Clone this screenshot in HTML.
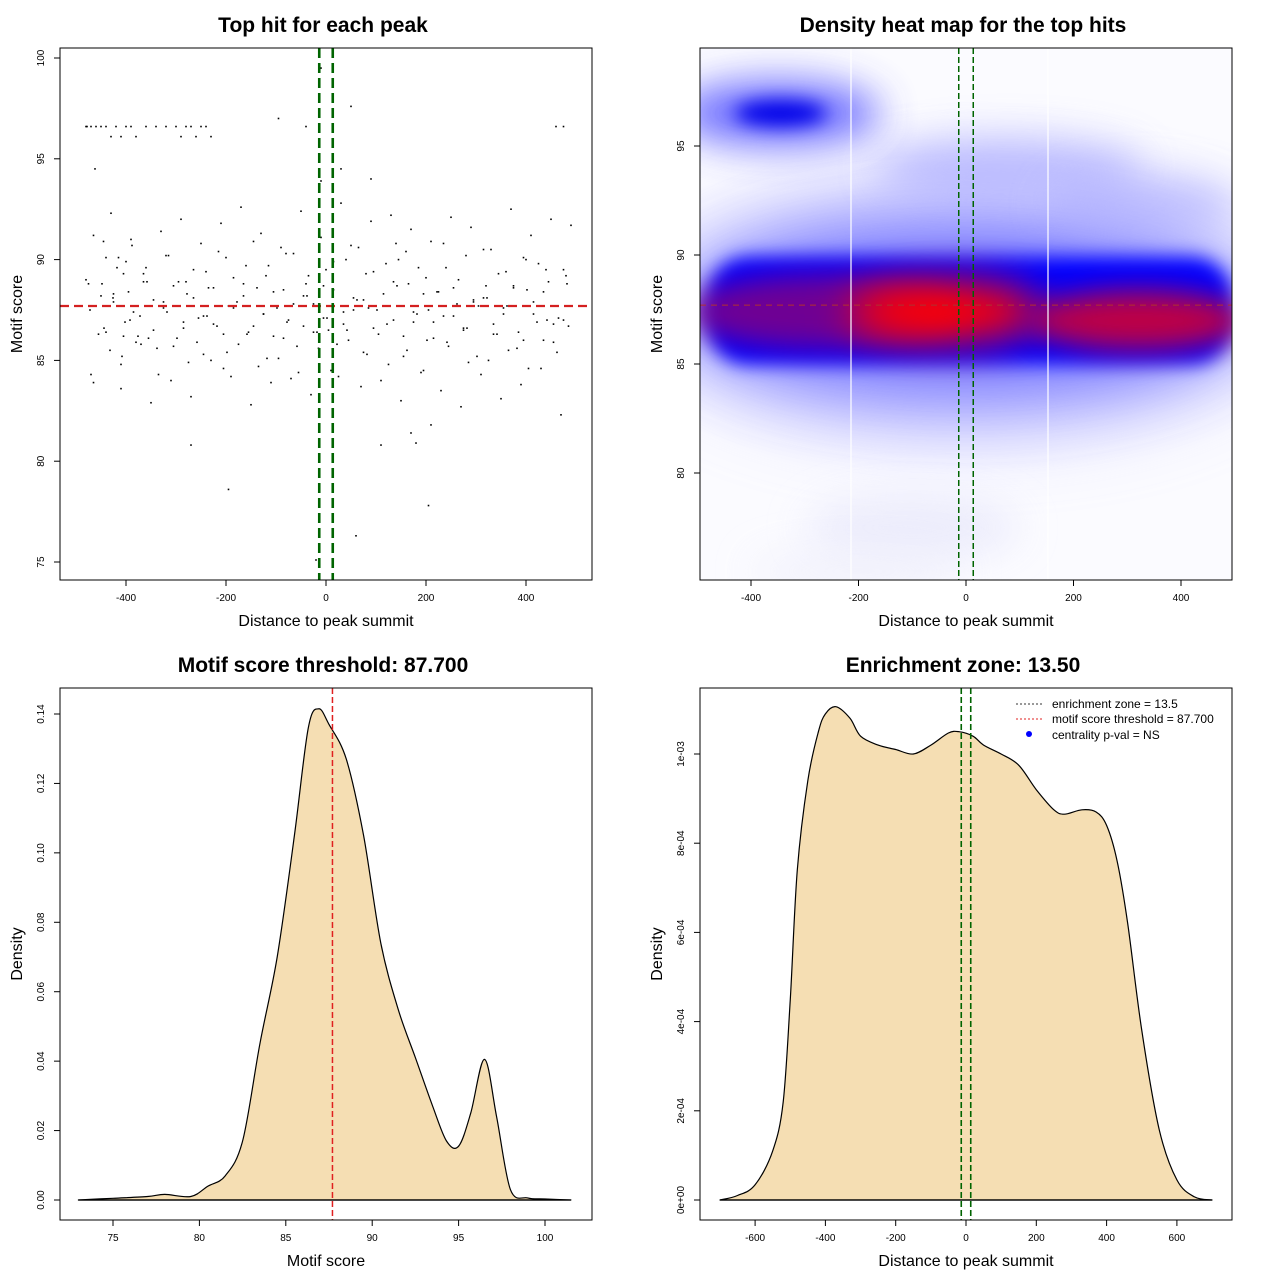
<!DOCTYPE html>
<html><head><meta charset="utf-8"><style>
html,body{margin:0;padding:0;background:#fff}
svg{display:block;font-family:"Liberation Sans",Arial,sans-serif}
</style></head><body>
<svg id="root" width="1280" height="1280" viewBox="0 0 1280 1280" xmlns="http://www.w3.org/2000/svg">
<defs>
<clipPath id="hmclip"><rect x="700" y="48" width="532" height="532"/></clipPath>
<filter id="b0" filterUnits="userSpaceOnUse" x="500" y="-200" width="900" height="1000"><feGaussianBlur stdDeviation="14"/></filter>
<filter id="b1" filterUnits="userSpaceOnUse" x="500" y="-200" width="900" height="1000"><feGaussianBlur stdDeviation="9"/></filter>
<filter id="b2" filterUnits="userSpaceOnUse" x="500" y="-200" width="900" height="1000"><feGaussianBlur stdDeviation="20"/></filter>
<filter id="b3" filterUnits="userSpaceOnUse" x="500" y="-200" width="900" height="1000"><feGaussianBlur stdDeviation="35"/></filter>
</defs>
<g id="p1"></g>
<g id="p2"></g>
<g id="p3"></g>
<g id="p4"></g>
</svg>
<script>
// ---------- data ----------
const scatterX = [-480,-470,-460,-450,-440,-430,-420,-410,-400,-390,-380,-360,-340,-320,-300,-290,-280,-270,-260,-250,-240,-230,
 -480,-472,-465,-455,-448,-440,-432,-425,-418,-410,-402,-395,-388,-380,-372,-365,-355,-345,-335,-325,-315,-305,-295,-285,-275,-265,-255,-245,-235,-225,-215,-205,-195,-185,-175,-165,-155,-145,-135,-125,-115,-105,-95,-85,-75,-65,-55,-45,-35,-25,-15,-5,5,15,25,35,45,55,65,75,85,95,105,115,125,135,145,155,165,175,185,195,205,215,225,235,245,255,265,275,285,295,305,315,325,335,345,355,365,375,385,395,405,415,425,435,445,455,465,475,485,
 -470,-450,-430,-410,-390,-370,-350,-330,-310,-290,-270,-250,-230,-210,-190,-170,-150,-130,-110,-90,-70,-50,-30,-10,10,30,50,70,90,110,130,150,170,190,210,230,250,270,290,310,330,350,370,390,410,430,450,470,490,
 -465,-445,-425,-405,-385,-365,-345,-325,-305,-285,-265,-245,-225,-205,-185,-165,-145,-125,-105,-85,-65,-45,-25,-5,15,35,55,75,95,115,135,155,175,195,215,235,255,275,295,315,335,355,375,395,415,435,455,475,
 -475,-440,-400,-360,-320,-280,-240,-200,-160,-120,-80,-40,0,40,80,120,160,200,240,280,320,360,400,440,480,
 -415,-405,-195,-20,-10,-95,-40,205,210,50,60,180,-270,170,110,-10,30,460,475,90,140,
 -478,-462,-444,-426,-408,-392,-376,-358,-338,-318,-298,-278,-258,-238,-218,-198,-178,-158,-138,-118,-98,-78,-58,-38,-18,2,22,42,62,82,102,122,142,162,182,202,222,242,262,282,302,322,342,362,382,402,422,442,462,482];
const scatterY = [96.6,96.6,96.6,96.6,96.6,96.1,96.6,96.1,96.6,96.6,96.1,96.6,96.6,96.6,96.6,96.1,96.6,96.6,96.1,96.6,96.6,96.1,
 89.0,87.5,91.2,86.3,88.8,90.1,85.5,87.9,89.6,84.8,86.9,88.4,90.7,85.9,87.2,89.3,86.1,88.0,84.3,87.6,90.2,85.7,88.9,86.6,84.9,89.5,87.1,85.3,88.6,86.8,90.4,84.6,87.7,89.1,85.8,88.2,86.4,90.9,84.7,87.3,89.7,86.2,85.1,88.5,87.0,90.3,84.4,86.7,89.2,87.8,85.6,88.7,86.5,89.9,84.2,87.4,86.0,88.1,90.6,85.4,87.6,89.4,86.3,88.3,84.8,87.0,90.0,85.2,88.8,86.9,89.6,84.5,87.5,86.1,88.4,90.8,85.7,87.2,89.0,86.6,84.9,88.0,87.7,90.5,85.0,86.8,89.3,87.3,85.5,88.6,86.4,90.1,84.6,87.9,89.8,86.0,88.9,85.9,87.1,89.5,86.7,84.3,88.2,
 92.3,83.6,91.0,85.8,82.9,91.4,84.0,92.0,83.2,90.8,85.0,91.8,84.2,92.6,82.8,91.3,83.9,90.6,84.1,92.4,83.3,91.1,84.5,92.8,90.7,83.7,91.9,84.0,92.2,83.0,91.5,84.4,90.9,83.5,92.1,82.7,91.6,84.3,90.5,83.1,92.5,83.8,91.2,84.6,92.0,82.3,91.7,83.9,90.9,
 88.3,86.2,87.4,88.9,86.5,87.9,88.7,86.9,88.1,87.2,88.6,86.3,87.6,88.8,86.7,87.3,88.4,86.1,87.8,88.2,86.4,87.1,88.5,86.8,87.5,88.0,86.6,87.7,88.9,86.2,87.4,88.3,86.9,87.2,88.6,86.5,87.9,88.1,86.3,87.6,88.7,86.0,87.3,88.4,86.8,87.0,88.8,86.4,
 89.9,89.6,90.2,88.9,89.4,90.1,89.7,89.2,90.3,88.8,89.5,90.0,89.3,89.8,90.4,89.1,89.6,90.2,88.7,89.4,90.0,89.5,89.2,90.1,89.3,
 78.6,75.1,99.5,97.0,96.6,77.8,81.8,97.6,76.3,80.9,80.8,81.4,80.8,93.9,94.5,96.6,96.6,94.0,90.8,96.6,94.5,
 86.6,88.1,85.2,87.0,86.2,88.9,85.6,87.4,86.1,88.3,85.9,87.2,86.7,85.4,87.9,86.3,88.6,85.1,87.6,86.9,85.7,88.2,86.4,87.1,85.8,86.5,88.0,85.3,87.5,86.8,88.7,85.5,87.3,86.0,88.4,85.9,87.8,86.6,85.2,88.1,86.3,87.7,85.6,88.5,86.9,87.0,85.4,88.8,86.2,87.6];
const heatCx = [0,-5,-260,-40,320,-345,-350,80,330,-100,-200];
const heatCy = [87.5,87.5,87.4,87.4,87.0,96.5,96.5,94.0,92.3,77.5,75.5];
const heatRx = [600,520,260,180,200,85,190,250,180,200,200];
const heatRy = [6,4,1.7,1.4,1.35,0.6,1.5,1.4,1.4,1.5,1.0];
const heatCol = ['#b8b8ff','#5a5aff','#7c0088','#ff0000','#c8003a','#0000e8','#4a4aff','#a8a8ff','#a8a8ff','#e8e8fb','#eeeefb'];
const heatOp = [0.6,0.8,0.9,1,0.95,1,0.8,0.7,0.6,0.8,0.7];
const bandX0=-480, bandX1=495, bandY0=85.0, bandY1=89.9;
const scoreX = [73,75,77,78,79.5,80.5,81.5,82.5,83.5,84.5,85.5,86.3,86.9,87.5,88.5,89.5,90.5,91.5,92.5,93.5,94.3,95,95.7,96.5,97.2,98,99,100,101.5];
const scoreD = [0,0.0005,0.001,0.0016,0.001,0.004,0.007,0.017,0.045,0.07,0.105,0.136,0.1415,0.137,0.127,0.105,0.074,0.055,0.041,0.027,0.017,0.0155,0.025,0.0405,0.024,0.003,0.0006,0.0003,0];
const distX = [-700,-650,-600,-550,-520,-500,-480,-450,-420,-400,-370,-330,-300,-250,-200,-150,-100,-50,-20,20,50,100,150,200,250,280,330,370,400,430,460,500,550,600,650,700];
const distD = [0,0.00001,0.000034,0.00011,0.00022,0.00045,0.00074,0.00094,0.00105,0.00109,0.001106,0.00108,0.00104,0.00102,0.00101,0.001,0.00102,0.001047,0.00105,0.00104,0.00102,0.001,0.000975,0.00092,0.000875,0.000865,0.000875,0.00087,0.00084,0.00076,0.00062,0.00038,0.000157,0.000045,0.000007,0];
const tickX1=[-400,-200,0,200,400], tickY1=[75,80,85,90,95,100];
const tickX2=[-400,-200,0,200,400], tickY2=[80,85,90,95];
const tickX3=[75,80,85,90,95,100], tickY3=[0,0.02,0.04,0.06,0.08,0.10,0.12,0.14];
const tickY3L=['0.00','0.02','0.04','0.06','0.08','0.10','0.12','0.14'];
const tickX4=[-600,-400,-200,0,200,400,600], tickY4=[0,0.0002,0.0004,0.0006,0.0008,0.001];
const tickY4L=['0e+00','2e-04','4e-04','6e-04','8e-04','1e-03'];
const threshold=87.7, zone=13.5;
// ---------- helpers ----------
const NS='http://www.w3.org/2000/svg';
function mk(parent,tag,attrs,text){const e=document.createElementNS(NS,tag);for(const k in attrs)e.setAttribute(k,attrs[k]);if(text!==undefined)e.textContent=text;parent.appendChild(e);return e;}
function lin(d0,d1,p0,p1){return v=>p0+(v-d0)*(p1-p0)/(d1-d0);}
function smooth(pts){
  let d='M'+pts[0][0].toFixed(1)+','+pts[0][1].toFixed(1);
  for(let i=0;i<pts.length-1;i++){
    const p0=pts[Math.max(0,i-1)],p1=pts[i],p2=pts[i+1],p3=pts[Math.min(pts.length-1,i+2)];
    const c1=[p1[0]+(p2[0]-p0[0])/6,p1[1]+(p2[1]-p0[1])/6];
    const c2=[p2[0]-(p3[0]-p1[0])/6,p2[1]-(p3[1]-p1[1])/6];
    d+=` C${c1[0].toFixed(1)},${c1[1].toFixed(1)} ${c2[0].toFixed(1)},${c2[1].toFixed(1)} ${p2[0].toFixed(1)},${p2[1].toFixed(1)}`;
  }
  return d+' Z';
}
function axes(g,L,T,W,H,sx,sy,xt,xl,yt,yl,title,xlab,ylab){
  const box=mk(g,'rect',{x:L,y:T,width:W,height:H,fill:'none',stroke:'#000','stroke-width':1});
  
  
  const B=T+H;
  mk(g,'line',{x1:sx(xt[0]),x2:sx(xt[xt.length-1]),y1:B,y2:B,stroke:'#000'});
  xt.forEach((v,i)=>{mk(g,'line',{x1:sx(v),x2:sx(v),y1:B,y2:B+6,stroke:'#000'});
    const t=mk(g,'text',{x:sx(v),y:B+21,'font-size':10,'text-anchor':'middle'},xl[i]);
    
    });
  yt.forEach((v,i)=>{mk(g,'line',{x1:L-6,x2:L,y1:sy(v),y2:sy(v),stroke:'#000'});
    const t=mk(g,'text',{x:L-16,y:sy(v),'font-size':10,'text-anchor':'middle',transform:`rotate(-90 ${L-16} ${sy(v)})`},yl[i]);
    
    });
  const tt=mk(g,'text',{x:L+W/2-3,y:T-16,'font-size':21,'font-weight':'bold','text-anchor':'middle'},title);
  
  
  const xa=mk(g,'text',{x:L+W/2,y:B+46,'font-size':16,'text-anchor':'middle'},xlab);
  
  
  const ya=mk(g,'text',{x:L-38,y:T+H/2,'font-size':16,'text-anchor':'middle',transform:`rotate(-90 ${L-38} ${T+H/2})`},ylab);
  
  
}
// ---------- panel 1 ----------
(function(){
 const g=document.getElementById('p1');
 const sx=lin(0,200,326,426), sy=lin(100,75,58,562);
 scatterX.forEach((x,i)=>{const r=mk(g,'rect',{x:sx(x)-0.8,y:sy(scatterY[i])-0.8,width:1.6,height:1.6,fill:'#000'});
   
   });
 const h=mk(g,'line',{x1:60,x2:592,y1:sy(threshold),y2:sy(threshold),stroke:'#d42020','stroke-width':2.2,'stroke-dasharray':'9,5'});
 
 
 [-zone,zone].forEach(z=>{const l=mk(g,'line',{x1:sx(z),x2:sx(z),y1:48,y2:580,stroke:'#006400','stroke-width':2.6,'stroke-dasharray':'10,5'});
  
  });
 axes(g,60,48,532,532,sx,sy,tickX1,tickX1.map(String),tickY1,tickY1.map(String),'Top hit for each peak','Distance to peak summit','Motif score');
})();
// ---------- panel 2 ----------
(function(){
 const g=document.getElementById('p2');
 const sx=lin(0,200,966,1073.5), sy=lin(95,80,146,473);
 const c=mk(g,'g',{'clip-path':'url(#hmclip)'});
 mk(c,'rect',{x:700,y:48,width:532,height:532,fill:'#fbfbff'});
 const filt=['url(#b3)','url(#b3)','url(#b0)','url(#b2)','url(#b0)','url(#b1)','url(#b2)','url(#b2)','url(#b2)','url(#b2)','url(#b2)'];
 function blob(i){const e=mk(c,'ellipse',{cx:sx(heatCx[i]),cy:sy(heatCy[i]),rx:heatRx[i]*0.5375,ry:heatRy[i]*21.8,fill:heatCol[i],opacity:heatOp[i],filter:filt[i]});
   
   }
 blob(0);blob(1);blob(7);blob(8);blob(9);blob(10);blob(6);blob(5);
 const band=mk(c,'rect',{x:sx(bandX0),y:sy(bandY1),width:sx(bandX1)-sx(bandX0),height:sy(bandY0)-sy(bandY1),rx:40,ry:40,fill:'#0000ff',filter:'url(#b1)'});
 
 
 blob(2);blob(4);blob(3);
 [851,1048].forEach(x=>mk(c,'line',{x1:x,x2:x,y1:48,y2:580,stroke:'#fff','stroke-width':1.2}));
 mk(c,'line',{x1:700,x2:1232,y1:sy(threshold),y2:sy(threshold),stroke:'#b03030','stroke-width':1,'stroke-dasharray':'6,5'});
 [-zone,zone].forEach(z=>{const l=mk(c,'line',{x1:sx(z),x2:sx(z),y1:48,y2:580,stroke:'#006400','stroke-width':1.5,'stroke-dasharray':'6,3'});
  
  });
 axes(g,700,48,532,532,sx,sy,tickX2,tickX2.map(String),tickY2,tickY2.map(String),'Density heat map for the top hits','Distance to peak summit','Motif score');
})();
// ---------- panel 3 ----------
(function(){
 const g=document.getElementById('p3');
 const sx=lin(75,100,113,545), sy=lin(0,0.14,1200,714);
 const pts=scoreX.map((x,i)=>[sx(x),sy(scoreD[i])]);
 const p=mk(g,'path',{d:smooth(pts),fill:'#f5deb3',stroke:'#000','stroke-width':1.2,'stroke-linejoin':'round'});
 
 
 mk(g,'line',{x1:sx(scoreX[0]),x2:sx(scoreX[scoreX.length-1]),y1:sy(0),y2:sy(0),stroke:'#000','stroke-width':1.2});
 const l=mk(g,'line',{x1:sx(threshold),x2:sx(threshold),y1:688,y2:1220,stroke:'#e02020','stroke-width':1.5,'stroke-dasharray':'6,3'});
 
 
 axes(g,60,688,532,532,sx,sy,tickX3,tickX3.map(String),tickY3,tickY3L,'Motif score threshold: 87.700','Motif score','Density');
})();
// ---------- panel 4 ----------
(function(){
 const g=document.getElementById('p4');
 const sx=lin(0,200,966,1036.3), sy=lin(0,0.001,1200,754);
 const pts=distX.map((x,i)=>[sx(x),sy(distD[i])]);
 const p=mk(g,'path',{d:smooth(pts),fill:'#f5deb3',stroke:'#000','stroke-width':1.2,'stroke-linejoin':'round'});
 
 
 mk(g,'line',{x1:sx(distX[0]),x2:sx(distX[distX.length-1]),y1:sy(0),y2:sy(0),stroke:'#000','stroke-width':1.2});
 [-zone,zone].forEach(z=>{const l=mk(g,'line',{x1:sx(z),x2:sx(z),y1:688,y2:1220,stroke:'#006400','stroke-width':1.6,'stroke-dasharray':'6,3'});
  
  });
 axes(g,700,688,532,532,sx,sy,tickX4,tickX4.map(String),tickY4,tickY4L,'Enrichment zone: 13.50','Distance to peak summit','Density');
 const lg=mk(g,'g',{});
 
 
 mk(lg,'line',{x1:1016,x2:1042,y1:704,y2:704,stroke:'#333','stroke-dasharray':'2,2'});
 mk(lg,'text',{x:1052,y:708,'font-size':12},'enrichment zone = 13.5');
 mk(lg,'line',{x1:1016,x2:1042,y1:719,y2:719,stroke:'#e02020','stroke-dasharray':'2,2'});
 mk(lg,'text',{x:1052,y:723,'font-size':12},'motif score threshold = 87.700');
 mk(lg,'circle',{cx:1029,cy:734,r:3,fill:'#0000ff'});
 mk(lg,'text',{x:1052,y:739,'font-size':12},'centrality p-val = NS');
})();
</script>
</body></html>
